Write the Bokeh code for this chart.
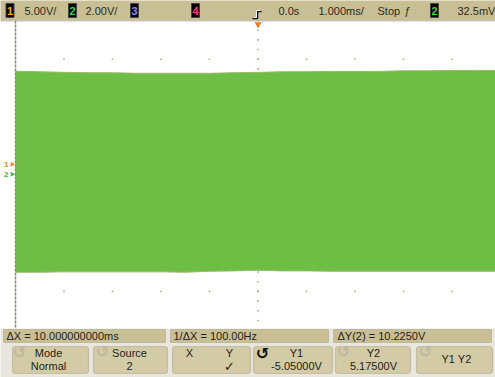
import numpy as np
from bokeh.plotting import figure
from bokeh.models import Range1d, BoxAnnotation, Span, ColumnDataSource
from bokeh.layouts import column
from bokeh.embed import file_html
from bokeh.resources import INLINE
from bokeh.core.properties import value

# ---------------- data ----------------
time_ms = [-5.0, -4.5, -4.0, -3.5, -3.0, -2.5, -2.0, -1.5, -1.0, -0.5, 0.0,
           0.5, 1.0, 1.5, 2.0, 2.5, 3.0, 3.5, 4.0, 4.5, 5.0]
upper_v = [5.38, 5.35, 5.32, 5.30, 5.30, 5.27, 5.27, 5.27, 5.27, 5.30, 5.32,
           5.35, 5.35, 5.37, 5.37, 5.37, 5.40, 5.40, 5.42, 5.42, 5.42]
lower_v = [-5.01, -5.01, -4.99, -4.99, -4.99, -4.99, -4.99, -5.01, -4.96, -4.94, -4.91,
           -4.94, -4.94, -4.96, -4.96, -4.96, -4.96, -4.96, -4.96, -4.96, -4.96]

# top status bar
ch_labels = ["1", "2", "3", "4", "2"]
ch_colors = ["#F2B600", "#3FD23F", "#8C8CFF", "#FF3C78", "#3FD23F"]
status_texts = ["5.00V/", "2.00V/", "0.0s", "1.000ms/", "Stop", "ƒ", "32.5mV"]

# measurement row
meas_texts = ["ΔX = 10.000000000ms", "1/ΔX = 100.00Hz", "ΔY(2) = 10.2250V"]

# softkeys
key_top = ["Mode", "Source", "", "Y1", "Y2", ""]
key_bottom = ["Normal", "2", "", "-5.05000V", "5.17500V", ""]

FONT = "Liberation Sans"
TAN = "#C9BF94"
EDGE = "#857E66"

# ---------------- top status bar ----------------
top = figure(width=495, height=20, x_range=Range1d(0, 495), y_range=Range1d(0, 20),
             toolbar_location=None, output_backend="svg", min_border=0,
             x_axis_location=None, y_axis_location=None)
top.grid.visible = False
top.outline_line_color = None
top.background_fill_color = TAN
top.border_fill_color = TAN

box_x = [9.5, 72, 134, 195, 434]
top.rect(x=box_x, y=[10] * 5, width=8, height=14, fill_color="black", line_color="#444444")
top.text(x=box_x, y=[10] * 5, text=ch_labels, text_color=ch_colors,
         text_font=value(FONT), text_font_size="11px", text_font_style="bold",
         text_align="center", text_baseline="middle")
status_x = [24, 85, 278, 318, 377, 404, 457]
top.text(x=status_x, y=[10] * len(status_x), text=status_texts, text_color="#2A2A22",
         text_font=value(FONT), text_font_size="11px", text_baseline="middle")
# trigger position glyph
top.multi_line(xs=[[252, 257, 257, 261]], ys=[[2, 2, 9, 9]], line_color="#111111", line_width=1.5)
top.multi_line(xs=[[253, 256, 256, 260]], ys=[[3, 3, 10, 10]], line_color="#FFFFFF", line_width=1)

# ---------------- scope screen ----------------
scope = figure(width=495, height=308,
               x_range=Range1d(-5 - 15 / 48.5, -5 + 480 / 48.5),
               y_range=Range1d(8 - 308 / 19.35, 8),
               toolbar_location=None, output_backend="svg", min_border=0,
               x_axis_location=None, y_axis_location=None)
scope.grid.visible = False
scope.outline_line_color = None
scope.background_fill_color = "white"
scope.border_fill_color = "white"

# graticule dots at major intersections
gx, gy = np.meshgrid(np.arange(-4, 5, 1.0), np.arange(-6, 7, 2.0))
scope.scatter(gx.ravel(), gy.ravel(), size=1.6, marker="square", color="#B8B098", line_color=None)
# centre vertical axis minor ticks
cy = np.arange(-8, 8.01, 0.5)
scope.scatter(np.zeros_like(cy), cy, size=1.6, marker="square", color="#B0A890", line_color=None)
# centre horizontal axis minor ticks
cx = np.arange(-5, 5.01, 0.25)
scope.scatter(cx, np.zeros_like(cx), size=1.6, marker="square", color="#B0A890", line_color=None)

src = ColumnDataSource(dict(t=time_ms, up=upper_v, lo=lower_v))
scope.varea(x="t", y1="lo", y2="up", source=src, fill_color="#6EBE46")
scope.line(x="t", y="up", source=src, line_color="#98B868", line_width=1)
scope.line(x="t", y="lo", source=src, line_color="#98B868", line_width=1)

# graticule borders
scope.add_layout(Span(location=-5, dimension="height", line_color="#8E8870",
                      line_width=1.5, line_dash="3 1"))
scope.add_layout(Span(location=8, dimension="width", line_color="#8E8870", line_width=1.5))

# trigger position marker
scope.scatter([0], [7.8], marker="inverted_triangle", size=7, fill_color="#F07A1E", line_color=None)
# channel ground markers
scope.text(x=[-5.19, -5.19], y=[0.57, 0.05], text=["1", "2"], text_color=["#F08A1E", "#3FB83F"],
           text_font=value(FONT), text_font_size="8px", text_font_style="bold",
           text_align="center", text_baseline="middle")
scope.scatter(x=[-5.07, -5.07], y=[0.57, 0.05], marker="triangle", angle=-np.pi / 2, size=5,
              fill_color=["#F08A1E", "#3FB83F"], line_color=None)

# ---------------- bottom panel ----------------
bot = figure(width=495, height=49, x_range=Range1d(0, 495), y_range=Range1d(0, 49),
             toolbar_location=None, output_backend="svg", min_border=0,
             x_axis_location=None, y_axis_location=None)
bot.grid.visible = False
bot.outline_line_color = None
bot.background_fill_color = "#E9E7DD"
bot.border_fill_color = "#E9E7DD"

row_l = [3, 170, 333]
row_r = [165, 328, 491]
for l, r in zip(row_l, row_r):
    bot.add_layout(BoxAnnotation(left=l, right=r, bottom=35, top=48, fill_color=TAN,
                                 fill_alpha=1, line_color=EDGE, line_width=1, level="underlay"))
bot.text(x=[6, 173, 337], y=[41.5] * 3, text=meas_texts, text_color="#1E1E18",
         text_font=value(FONT), text_font_size="11px", text_baseline="middle")

key_l = [12, 93, 172, 253, 335, 416]
key_r = [88, 167, 250, 332, 410, 492]
for l, r in zip(key_l, key_r):
    bot.add_layout(BoxAnnotation(left=l, right=r, bottom=4, top=31, fill_color="#D3CBA5",
                                 fill_alpha=1, line_color=EDGE, line_width=1.2, border_radius=3,
                                 level="underlay"))
key_cx = [48, 129, 211, 296, 373, 456]
bot.text(x=key_cx, y=[25] * 6, text=key_top, text_color="#1E1E18",
         text_font=value(FONT), text_font_size="11px", text_align="center", text_baseline="middle")
bot.text(x=key_cx, y=[12] * 6, text=key_bottom, text_color="#1E1E18",
         text_font=value(FONT), text_font_size="11px", text_align="center", text_baseline="middle")
# X / Y softkey and Y1 Y2 softkey
bot.text(x=[189, 229, 456], y=[25, 25, 19], text=["X", "Y", "Y1 Y2"], text_color="#1E1E18",
         text_font=value(FONT), text_font_size="11px", text_align="center", text_baseline="middle")
bot.text(x=[229], y=[11], text=["✓"], text_color="#1E1E18",
         text_font=value("DejaVu Sans"), text_font_size="13px", text_font_style="bold",
         text_align="center", text_baseline="middle")
# rotary knob icons
bot.text(x=[19, 102, 262, 343, 425], y=[25, 26, 24, 26, 26], text=["↺"] * 5,
         text_color=["#BDB7A0", "#BDB7A0", "#111111", "#BDB7A0", "#BDB7A0"],
         text_font=value("DejaVu Sans"), text_font_size="16px", text_font_style="bold",
         text_align="center", text_baseline="middle")

layout = column(top, scope, bot, spacing=0)
open("out.html", "w").write(file_html(layout, INLINE))
